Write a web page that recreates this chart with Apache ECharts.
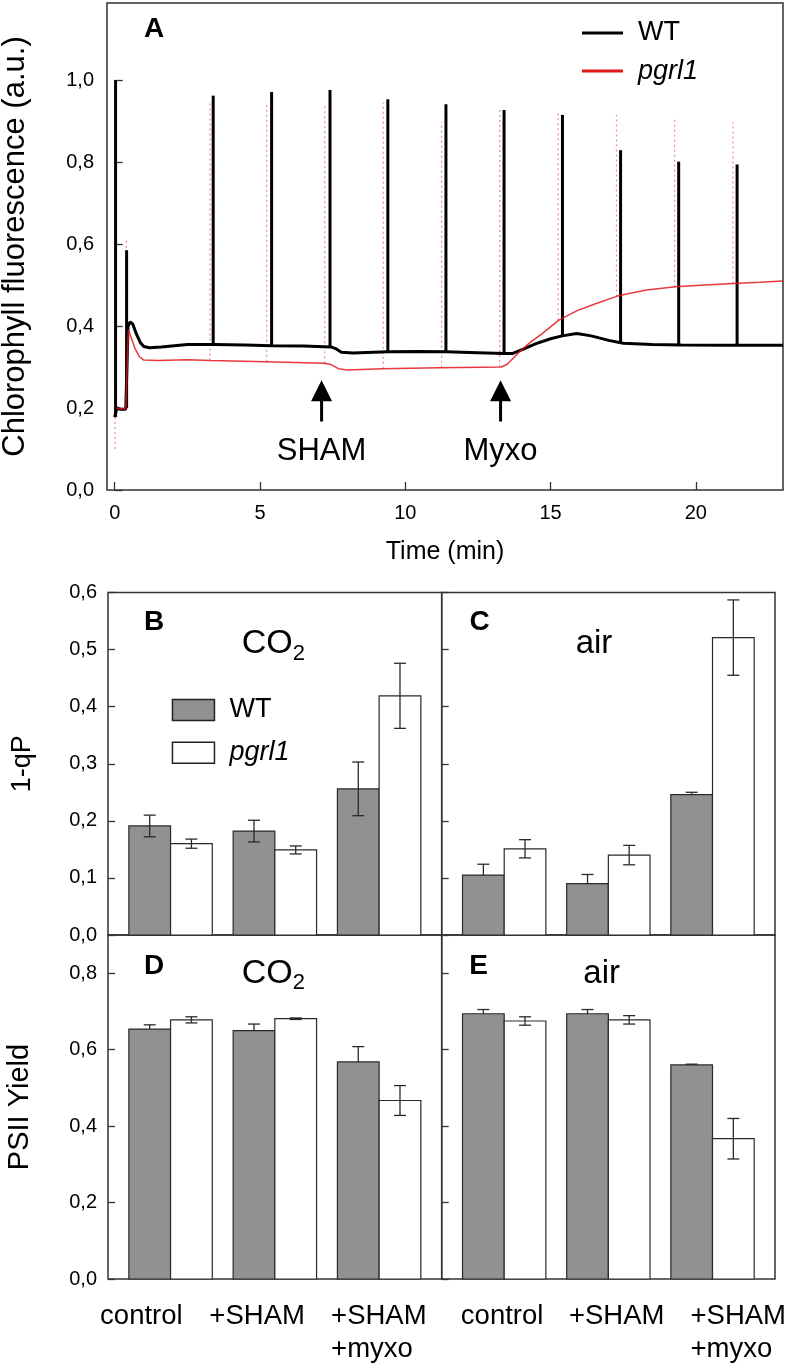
<!DOCTYPE html>
<html><head><meta charset="utf-8">
<script src="https://cdn.jsdelivr.net/npm/echarts@6/dist/echarts.min.js"></script>
<style>html,body{margin:0;padding:0;background:#fff}#c{width:793px;height:1369px}</style>
</head><body><div id="c"></div>
<script>
// ---------- Panel A : fluorescence traces ----------
// baseline traces [time (min), fluorescence]
const wtTrace = [[0,0.178],[0.04,0.19],[0.07,0.2],[0.2,0.197],[0.38,0.197],[0.41,0.2],[0.46,0.4],[0.53,0.41],[0.62,0.405],[0.75,0.38],[0.88,0.36],[1.0,0.35],[1.2,0.347],[1.6,0.349],[2.5,0.355],[3.4,0.355],[4.5,0.354],[5.4,0.352],[6.5,0.351],[7.45,0.349],[7.6,0.345],[7.8,0.336],[8.2,0.334],[9.4,0.337],[10.5,0.338],[11.4,0.337],[12.5,0.335],[13.4,0.333],[13.7,0.333],[14.0,0.342],[14.5,0.357],[15.0,0.369],[15.4,0.376],[15.9,0.382],[16.4,0.376],[17.0,0.365],[17.5,0.358],[18.5,0.355],[19.5,0.354],[21,0.353],[23,0.353]];
const pgTrace = [[0.06,0.2],[0.2,0.198],[0.38,0.198],[0.42,0.2],[0.47,0.39],[0.55,0.375],[0.7,0.345],[0.85,0.325],[1.0,0.317],[1.5,0.316],[2.5,0.318],[3.3,0.316],[5.2,0.313],[7.2,0.309],[7.45,0.306],[7.7,0.296],[8.0,0.293],[9.2,0.296],[11.2,0.298],[13.3,0.300],[13.5,0.306],[13.9,0.335],[14.3,0.36],[14.7,0.381],[15.3,0.415],[15.9,0.437],[16.5,0.453],[17.3,0.473],[18.3,0.488],[19.3,0.496],[20.3,0.5],[21.3,0.504],[22.2,0.507],[23,0.51]];
// saturating pulses [time, base, peak]
const wtPulses = [[0.03,0.178,1.0],[0.41,0.2,0.585],[3.39,0.355,0.962],[5.40,0.352,0.971],[7.41,0.349,0.976],[9.40,0.337,0.953],[11.40,0.337,0.941],[13.40,0.333,0.927],[15.41,0.376,0.915],[17.41,0.358,0.829],[19.41,0.354,0.801],[21.42,0.353,0.794]];
const pgPulses = [[0.01,0.1,1.0],[0.40,0.2,0.61],[3.28,0.316,0.943],[5.23,0.313,0.939],[7.23,0.309,0.939],[9.24,0.296,0.945],[11.25,0.298,0.898],[13.25,0.300,0.927],[15.26,0.414,0.92],[17.27,0.472,0.915],[19.27,0.496,0.91],[21.28,0.504,0.898]];
const timeTicks = [0,5,10,15,20];
const fluoTicks = [0,0.2,0.4,0.6,0.8,1.0];
const annotTimes = [7.12, 13.28];
const annotLabels = ['SHAM','Myxo'];

// ---------- Panels B–E : bars ----------
const treatments = ['control', '+SHAM', '+SHAM\n+myxo'];
const qpCO2WT = [0.191, 0.182, 0.256];
const qpCO2WTErr = [0.019, 0.019, 0.047];
const qpCO2Pg = [0.160, 0.149, 0.419];
const qpCO2PgErr = [0.008, 0.007, 0.057];
const qpAirWT = [0.105, 0.090, 0.246];
const qpAirWTErr = [0.019, 0.016, 0.004];
const qpAirPg = [0.151, 0.140, 0.521];
const qpAirPgErr = [0.016, 0.017, 0.066];
const yCO2WT = [0.654, 0.650, 0.568];
const yCO2WTErr = [0.011, 0.017, 0.040];
const yCO2Pg = [0.678, 0.681, 0.467];
const yCO2PgErr = [0.008, 0.002, 0.039];
const yAirWT = [0.694, 0.694, 0.560];
const yAirWTErr = [0.011, 0.011, 0.002];
const yAirPg = [0.675, 0.678, 0.367];
const yAirPgErr = [0.011, 0.011, 0.053];
const qpTicks = [0,0.1,0.2,0.3,0.4,0.5,0.6];
const yieldTicks = [0,0.2,0.4,0.6,0.8];

// ---------- styling / layout ----------
const FONT = "'Liberation Sans', Arial, Helvetica, sans-serif";
const AX = '#333';
const GRAY = '#919191';
const RED = '#e3161b';
const BAR_W = 0.4;
const comma = v => v.toFixed(1).replace('.', ',');

const chart = echarts.init(document.getElementById('c'), null, {renderer:'canvas', width:793, height:1369});

const grids = [
  {left:107, top:3, width:676, height:487},
  {left:108, top:592.5, width:333.7, height:342.5},
  {left:441.7, top:592.5, width:333.3, height:342.5},
  {left:108, top:935, width:333.7, height:344},
  {left:441.7, top:935, width:333.3, height:344}
].map(g => Object.assign({show:true, borderColor:AX, borderWidth:1.5, backgroundColor:'transparent', containLabel:false, outerBoundsMode:'none'}, g));

const tickStyle = {color:AX, width:1.3};

function treatLabel(i) {
  const t = treatments[i];
  if (t === undefined) return '';
  if (t.indexOf('\n') >= 0) return t.split('\n').map(s => '{m|' + s + '}').join('\n');
  return t;
}
function barX(gi, labelPos) {
  return {gridIndex:gi, type:'value', min:0.4, max:3.6,
    axisLine:{show:false}, splitLine:{show:false}, axisTick:{show:false},
    axisLabel: labelPos ? {show:true, customValues:labelPos, margin:21, fontSize:27.5, lineHeight:33,
      color:'#000', fontFamily:FONT, formatter: v => treatLabel(labelPos.indexOf(v)),
      rich:{m:{width:94, align:'left', fontSize:27.5, lineHeight:33, fontFamily:FONT, color:'#000'}}} : {show:false}};
}
function barY(gi, max, ticks, showLabels, name, nameGap, nameSize) {
  const ax = {gridIndex:gi, type:'value', min:0, max:max,
    axisLine:{show:false}, splitLine:{show:false},
    axisTick:{show:true, inside:true, length:7, customValues:ticks, lineStyle:tickStyle},
    axisLabel: showLabels ? {show:true, customValues:ticks, margin:11, fontSize:20, color:'#000', fontFamily:FONT, formatter: comma} : {show:false}};
  if (name) Object.assign(ax, {name:name, nameLocation:'middle', nameGap:nameGap,
    nameTextStyle:{fontSize:nameSize, color:'#000', fontFamily:FONT}});
  return ax;
}

const xAxes = [
  {gridIndex:0, type:'value', min:-0.265, max:23, axisLine:{show:false}, splitLine:{show:false},
   axisTick:{show:true, inside:true, length:8, customValues:timeTicks, lineStyle:tickStyle},
   axisLabel:{show:true, customValues:timeTicks, margin:13, fontSize:20, color:'#000', fontFamily:FONT, formatter: v => String(v)},
   name:'Time (min)', nameLocation:'middle', nameGap:50, nameTextStyle:{fontSize:25, color:'#000', fontFamily:FONT}},
  barX(1, null), barX(2, null),
  barX(3, [0.72, 1.83, 2.99]), barX(4, [0.98, 2.08, 3.24])
];
const yAxes = [
  {gridIndex:0, type:'value', min:0, max:1.188, axisLine:{show:false}, splitLine:{show:false},
   axisTick:{show:true, inside:true, length:8, customValues:fluoTicks, lineStyle:tickStyle},
   axisLabel:{show:true, customValues:fluoTicks, margin:13, fontSize:20, color:'#000', fontFamily:FONT, formatter: comma},
   name:'Chlorophyll fluorescence (a.u.)', nameLocation:'middle', nameGap:76, nameTextStyle:{fontSize:31, color:'#000', fontFamily:FONT}},
  barY(1, 0.6, qpTicks, true, '1-qP', 72, 27),
  barY(2, 0.6, qpTicks, false),
  barY(3, 0.9, yieldTicks, true, 'PSII Yield', 74, 29),
  barY(4, 0.9, yieldTicks, false)
];

function pulseSeries(name, data, style, z) {
  return {type:'custom', name:name, xAxisIndex:0, yAxisIndex:0, data:data, encode:{x:0, y:[1,2]}, z:z, silent:true,
    renderItem:(p, api) => {
      const a = api.coord([api.value(0), api.value(1)]);
      const b = api.coord([api.value(0), api.value(2)]);
      return {type:'line', shape:{x1:a[0], y1:a[1], x2:b[0], y2:b[1]}, style:style};
    }};
}

function barSeries(name, gi, vals, errs, side, color, errBehind) {
  return {type:'custom', name:name, xAxisIndex:gi, yAxisIndex:gi,
    data: vals.map((v, i) => [i + 1, v, errs[i]]), encode:{x:0, y:1},
    itemStyle:{color:color}, z:3,
    renderItem:(p, api) => {
      const x = api.value(0), v = api.value(1), e = api.value(2);
      const xa = side < 0 ? x - BAR_W : x, xb = side < 0 ? x : x + BAR_W;
      const p0 = api.coord([xa, v]), p1 = api.coord([xb, 0]);
      const cx = (p0[0] + p1[0]) / 2;
      const top = api.coord([x, v + e])[1], bot = api.coord([x, v - e])[1];
      const es = {stroke:'#2a2a2a', lineWidth:1.3};
      const rect = {type:'rect', shape:{x:p0[0], y:p0[1], width:p1[0]-p0[0], height:p1[1]-p0[1]},
        style:{fill:color, stroke:'#2a2a2a', lineWidth:1.2}};
      const err = {type:'group', children:[
        {type:'line', shape:{x1:cx, y1:top, x2:cx, y2:bot}, style:es},
        {type:'line', shape:{x1:cx-6, y1:top, x2:cx+6, y2:top}, style:es},
        {type:'line', shape:{x1:cx-6, y1:bot, x2:cx+6, y2:bot}, style:es}]};
      return {type:'group', children: errBehind ? [err, rect] : [rect, err]};
    }};
}

const panels = [
  {gi:1, wt:qpCO2WT, wtE:qpCO2WTErr, pg:qpCO2Pg, pgE:qpCO2PgErr, behind:false},
  {gi:2, wt:qpAirWT, wtE:qpAirWTErr, pg:qpAirPg, pgE:qpAirPgErr, behind:true},
  {gi:3, wt:yCO2WT, wtE:yCO2WTErr, pg:yCO2Pg, pgE:yCO2PgErr, behind:true},
  {gi:4, wt:yAirWT, wtE:yAirWTErr, pg:yAirPg, pgE:yAirPgErr, behind:true}
];

const series = [
  {type:'line', name:'WT', xAxisIndex:0, yAxisIndex:0, data:wtTrace, symbol:'none', showSymbol:false,
   lineStyle:{color:'#000', width:3}, itemStyle:{color:'#000'}, z:2, silent:true},
  pulseSeries('WT pulses', wtPulses, {stroke:'#000', lineWidth:3}, 2),
  {type:'line', name:'pgrl1', xAxisIndex:0, yAxisIndex:0, data:pgTrace, symbol:'none', showSymbol:false,
   lineStyle:{color:RED, width:1.5, opacity:0.85}, itemStyle:{color:RED}, z:4, silent:true},
  pulseSeries('pgrl1 pulses', pgPulses, {stroke:'rgba(226,60,60,0.6)', lineWidth:1.2, lineDash:[2,3]}, 1),
  {type:'custom', name:'annotations', xAxisIndex:0, yAxisIndex:0, data:annotTimes.map((t, i) => [t, i]),
   encode:{x:0, y:1}, z:5, silent:true,
   renderItem:(p, api) => {
     const t = api.value(0), lab = annotLabels[api.value(1)];
     const tip = api.coord([t, 0.268]), bot = api.coord([t, 0.167]), txt = api.coord([t, 0.093]);
     return {type:'group', children:[
       {type:'line', shape:{x1:tip[0], y1:tip[1] + 15, x2:bot[0], y2:bot[1]}, style:{stroke:'#000', lineWidth:3}},
       {type:'polygon', shape:{points:[[tip[0], tip[1]], [tip[0] - 10.5, tip[1] + 21], [tip[0] + 10.5, tip[1] + 21]]}, style:{fill:'#000'}},
       {type:'text', x:txt[0], y:txt[1], style:{text:lab, fontSize:31, fontFamily:FONT, fill:'#000',
         align:'center', verticalAlign:'middle', textAlign:'center', textVerticalAlign:'middle'}}
     ]};
   }}
];
panels.forEach(pn => {
  series.push(barSeries('WT', pn.gi, pn.wt, pn.wtE, -1, GRAY, pn.behind));
  series.push(barSeries('pgrl1', pn.gi, pn.pg, pn.pgE, 1, '#ffffff', false));
});

const legendText = {fontSize:27, fontFamily:FONT, color:'#000', lineHeight:30, padding:[0,0,0,10],
  rich:{i:{fontStyle:'italic', fontSize:27, fontFamily:FONT, lineHeight:30}}};
const legendFmt = n => n === 'pgrl1' ? '{i|pgrl1}' : n;

function gtext(x, y, text, extra) {
  return {type:'text', x:x, y:y, style:Object.assign({text:text, fontFamily:FONT, fill:'#000',
    align:'center', verticalAlign:'middle', textAlign:'center', textVerticalAlign:'middle'}, extra || {})};
}
const letter = {fontSize:28, fontWeight:'bold'};
const co2Style = {align:'left', textAlign:'left',
  rich:{a:{fontSize:34, fontFamily:FONT, verticalAlign:'middle'}, b:{fontSize:22, fontFamily:FONT, padding:[20,0,0,0], verticalAlign:'middle'}}};

chart.setOption({
  animation:false,
  textStyle:{fontFamily:FONT},
  grid:grids,
  xAxis:xAxes,
  yAxis:yAxes,
  legend:[
    {data:[{name:'WT', itemStyle:{color:'#000', borderWidth:0}}, {name:'pgrl1', itemStyle:{color:RED, borderWidth:0}}],
     orient:'vertical', left:582, top:18, padding:0, icon:'rect', itemWidth:41, itemHeight:3, itemGap:8,
     selectedMode:false, textStyle:legendText, formatter:legendFmt},
    {data:[{name:'WT', itemStyle:{color:GRAY, borderColor:'#222', borderWidth:1.5}}, {name:'pgrl1', itemStyle:{color:'#fff', borderColor:'#222', borderWidth:1.5}}],
     orient:'vertical', left:171.7, top:695, padding:0, icon:'rect', itemWidth:42, itemHeight:21, itemGap:12.7,
     selectedMode:false, textStyle:legendText, formatter:legendFmt}
  ],
  graphic:[
    gtext(154, 29.7, 'A', letter),
    gtext(154, 622, 'B', letter),
    gtext(479.5, 622.5, 'C', letter),
    gtext(154, 966.7, 'D', letter),
    gtext(478.5, 966, 'E', letter),
    gtext(241.7, 644, '{a|CO}{b|2}', co2Style),
    gtext(241.7, 973.3, '{a|CO}{b|2}', co2Style),
    gtext(594, 644, 'air', {fontSize:33}),
    gtext(601.7, 974, 'air', {fontSize:33})
  ],
  series:series
});
</script></body></html>
